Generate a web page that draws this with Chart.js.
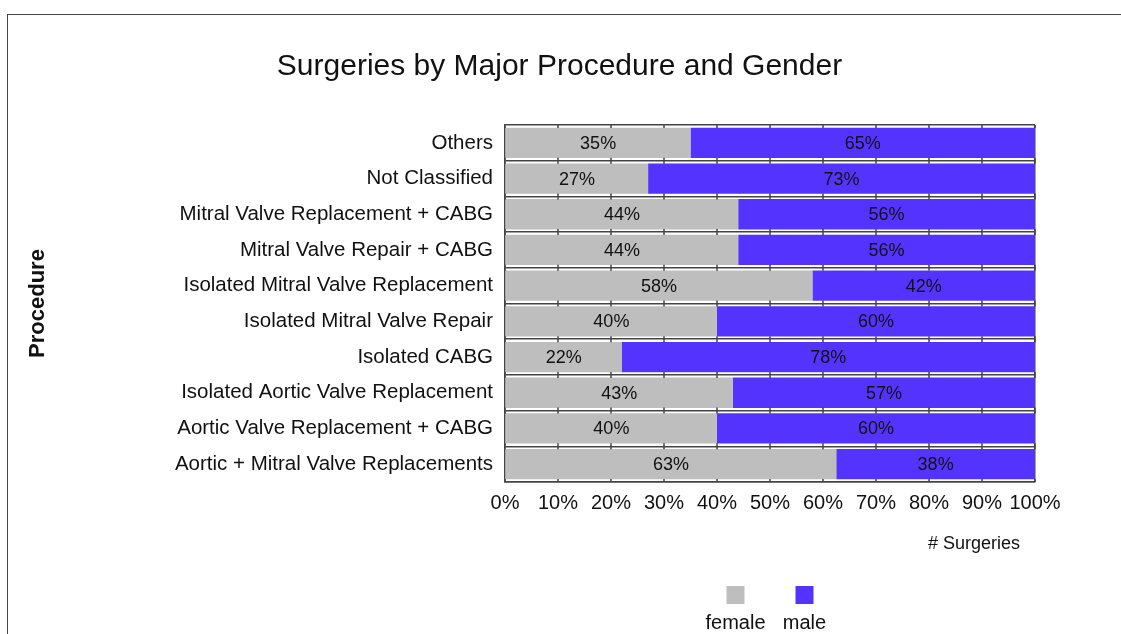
<!DOCTYPE html>
<html>
<head>
<meta charset="utf-8">
<script src="https://cdn.jsdelivr.net/npm/chart.js@4/dist/chart.umd.min.js"></script>
<style>
  body { margin: 0; background: #fff; overflow: hidden; }
  #frame { position: absolute; left: 7px; top: 14px; width: 1200px; height: 700px;
           border-top: 1px solid #444; border-left: 1px solid #444; }
  #chart { position: absolute; left: 0; top: 0; }
</style>
</head>
<body>
<div id="frame"></div>
<canvas id="chart" width="1121" height="634"></canvas>
<script>
  var procedures = [
    "Others",
    "Not Classified",
    "Mitral Valve Replacement + CABG",
    "Mitral Valve Repair + CABG",
    "Isolated Mitral Valve Replacement",
    "Isolated Mitral Valve Repair",
    "Isolated CABG",
    "Isolated Aortic Valve Replacement",
    "Aortic Valve Replacement + CABG",
    "Aortic + Mitral Valve Replacements"
  ];
  var femalePct = [35, 27, 44, 44, 58, 40, 22, 43, 40, 62.5];
  var malePct = [65, 73, 56, 56, 42, 60, 78, 57, 60, 37.5];
  var seriesNames = ["female", "male"];
  var seriesColors = ["#bebebe", "#5533ff"];

  var fontFamily = "'Liberation Sans', Arial, sans-serif";

  // keep the title centred on the whole canvas, not just the padded box
  var centerTitle = {
    id: 'centerTitle',
    afterLayout: function(chart) {
      if (chart.titleBlock) {
        chart.titleBlock.left = 0;
        chart.titleBlock.right = chart.width - 2;
      }
    }
  };

  // % labels in the middle of each bar segment
  var barLabels = {
    id: 'barLabels',
    afterDatasetsDraw: function(chart) {
      var ctx = chart.ctx;
      ctx.save();
      ctx.font = '18px ' + fontFamily;
      ctx.fillStyle = '#111';
      ctx.textAlign = 'center';
      ctx.textBaseline = 'middle';
      chart.data.datasets.forEach(function(ds, i) {
        chart.getDatasetMeta(i).data.forEach(function(bar, j) {
          ctx.fillText(Math.round(ds.data[j]) + '%', (bar.x + bar.base) / 2, bar.y + 1);
        });
      });
      ctx.restore();
    }
  };

  // little tick marks on the lines between categories
  var boundaryTicks = {
    id: 'boundaryTicks',
    afterDatasetsDraw: function(chart) {
      var ctx = chart.ctx, xs = chart.scales.x, ys = chart.scales.y;
      var step = ys.getPixelForTick(1) - ys.getPixelForTick(0);
      ctx.save();
      ctx.strokeStyle = '#444';
      ctx.lineWidth = 1.5;
      for (var i = 0; i <= procedures.length; i++) {
        var yb = ys.getPixelForTick(0) - step / 2 + i * step;
        xs.ticks.forEach(function(t) {
          var xp = xs.getPixelForValue(t.value);
          ctx.beginPath();
          ctx.moveTo(xp, Math.max(yb - 3, chart.chartArea.top));
          ctx.lineTo(xp, Math.min(yb + 3, chart.chartArea.bottom));
          ctx.stroke();
        });
      }
      ctx.restore();
    }
  };

  // legend with the box above its label
  var stackedLegend = {
    id: 'stackedLegend',
    afterDraw: function(chart) {
      var ctx = chart.ctx, area = chart.chartArea;
      var slot = 69;
      var n = chart.data.datasets.length;
      var cx0 = (area.left + area.right) / 2 - slot * (n - 1) / 2;
      ctx.save();
      ctx.font = '20px ' + fontFamily;
      ctx.textAlign = 'center';
      ctx.textBaseline = 'middle';
      chart.data.datasets.forEach(function(ds, i) {
        var cx = cx0 + i * slot;
        ctx.fillStyle = ds.backgroundColor;
        ctx.fillRect(cx - 9, 586, 18, 18);
        ctx.fillStyle = '#111';
        ctx.fillText(ds.label, cx, 623);
      });
      ctx.restore();
    }
  };

  var ctx = document.getElementById('chart');
  var surgeries = new Chart(ctx, {
    type: 'bar',
    data: {
      labels: procedures,
      datasets: [{
        label: seriesNames[0],
        data: femalePct,
        backgroundColor: seriesColors[0],
        borderWidth: 0
      }, {
        label: seriesNames[1],
        data: malePct,
        backgroundColor: seriesColors[1],
        borderWidth: 0
      }]
    },
    plugins: [centerTitle, barLabels, boundaryTicks, stackedLegend],
    options: {
      responsive: false,
      animation: false,
      indexAxis: 'y',
      barPercentage: 0.85,
      categoryPercentage: 1,
      layout: {
        padding: { left: 0, right: 86, top: 0, bottom: 62 }
      },
      plugins: {
        legend: { display: false },
        tooltip: { enabled: false },
        title: {
          display: true,
          text: 'Surgeries by Major Procedure and Gender',
          color: '#111',
          font: { family: fontFamily, size: 30, weight: 'normal' },
          padding: { top: 49, bottom: 40 }
        }
      },
      scales: {
        x: {
          stacked: true,
          min: 0,
          max: 100,
          ticks: {
            stepSize: 10,
            padding: 9,
            autoSkip: false,
            maxRotation: 0,
            minRotation: 0,
            color: '#111',
            font: { family: fontFamily, size: 20 },
            callback: function(v) { return v + '%'; }
          },
          grid: {
            drawTicks: false,
            lineWidth: 1.5,
            color: function(c) { return c.tick && c.tick.value === 100 ? '#444' : 'rgba(0,0,0,0)'; }
          },
          border: { display: true, color: '#444', width: 1.5 },
          title: {
            display: true,
            text: '# Surgeries   ',
            align: 'end',
            color: '#111',
            font: { family: fontFamily, size: 18 },
            padding: { top: 0, bottom: 17 }
          },
          afterFit: function(scale) { scale.height = 90; }
        },
        y: {
          stacked: true,
          ticks: {
            padding: 12,
            color: '#111',
            font: { family: fontFamily, size: 20.5 }
          },
          grid: {
            offset: true,
            drawTicks: false,
            color: '#444',
            lineWidth: 1.5
          },
          border: { display: true, color: '#444', width: 1.5 },
          title: {
            display: true,
            text: 'Procedure',
            color: '#111',
            font: { family: fontFamily, size: 22, weight: 'bold' },
            padding: { top: 25, bottom: 0 }
          },
          afterFit: function(scale) { scale.width = 505; }
        }
      }
    }
  });
</script>
</body>
</html>
